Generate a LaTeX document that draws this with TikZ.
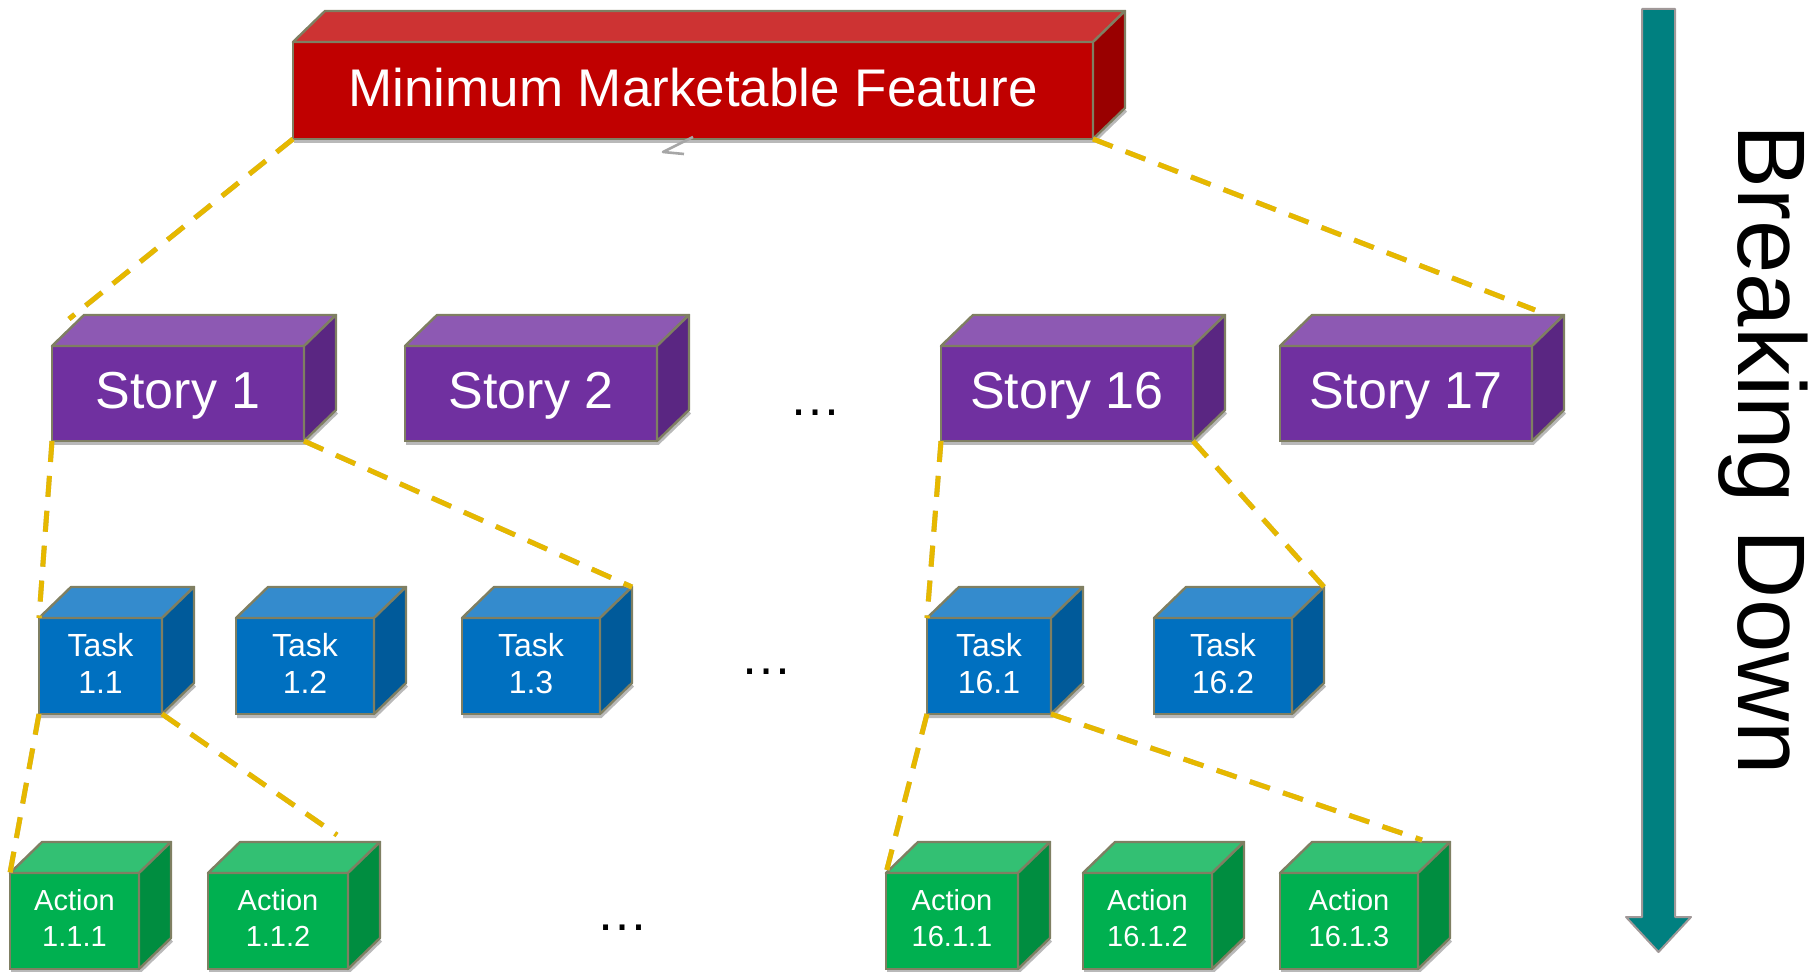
\documentclass[tikz,border=0pt]{standalone}
\usepackage{fontspec}
\setmainfont{Liberation Sans}
\usetikzlibrary{calc,arrows.meta}

\definecolor{mmfF}{HTML}{C00000}
\definecolor{mmfT}{HTML}{CD3333}
\definecolor{mmfS}{HTML}{990000}
\definecolor{stF}{HTML}{7030A0}
\definecolor{stT}{HTML}{8D59B3}
\definecolor{stS}{HTML}{5A2682}
\definecolor{tkF}{HTML}{0070C0}
\definecolor{tkT}{HTML}{348BCD}
\definecolor{tkS}{HTML}{005A9A}
\definecolor{acF}{HTML}{00B050}
\definecolor{acT}{HTML}{33C073}
\definecolor{acS}{HTML}{008D40}
\definecolor{edgec}{HTML}{7F7F62}
\definecolor{dashy}{HTML}{E6B800}
\definecolor{arrowteal}{HTML}{008080}
\definecolor{arrowgray}{HTML}{A09898}

\newcommand\fmmf{\fontsize{26.5}{30}\selectfont}
\newcommand\fstory{\fontsize{26}{30}\selectfont}
\newcommand\ftask{\fontsize{16}{18.5}\selectfont}
\newcommand\faction{\fontsize{14.5}{18}\selectfont}
\def\cdx{32}
\def\cdy{31}

\tikzset{
  front/.style={fill=#1F, draw=edgec, line width=1.2pt, text=white, inner sep=0pt,
    outer sep=0pt, anchor=north west, align=center, text depth=3pt},
  face/.style={fill=#1, draw=edgec, line width=1.2pt, line join=round},
  boxshadow/.style={draw=gray!55, line width=1.5pt},
  conn/.style={draw=dashy, line width=2.5pt, dash pattern=on 10.5pt off 7pt},
  connshadow/.style={draw=gray!55, line width=2.5pt, dash pattern=on 10.5pt off 7pt, shift={(1,3)}},
  dots/.style={font=\fstory, anchor=base, inner sep=0pt},
}

% name, x, y, w, h, colour prefix, font, text
\newcommand\cubebox[8]{%
  \draw[boxshadow] (#2+1,#3+#5+2.5) -- (#2+#4+1,#3+#5+2.5) -- (#2+#4+\cdx+1,#3+#5-\cdy+2.5);
  \node[front=#6, minimum width=#4*0.5pt, minimum height=#5*0.5pt, font=#7] (#1) at (#2,#3) {#8};
  \filldraw[face=#6T] (#1.north west) -- ++(\cdx,-\cdy) -- ++(#4,0) -- (#1.north east) -- cycle;
  \filldraw[face=#6S] (#1.north east) -- ++(\cdx,-\cdy) -- ++(0,#5) -- (#1.south east) -- cycle;
}

\begin{document}
\begin{tikzpicture}[x=0.5pt,y=-0.5pt]
\useasboundingbox (0,0) rectangle (1820,972);

% top level
\cubebox{mmf}{293}{42}{800}{97}{mmf}{\fmmf}{Minimum Marketable Feature}

% stories
\cubebox{s1}{52}{346}{252}{95}{st}{\fstory}{Story 1}
\cubebox{s2}{405}{346}{252}{95}{st}{\fstory}{Story 2}
\cubebox{s16}{941}{346}{252}{95}{st}{\fstory}{Story 16}
\cubebox{s17}{1280}{346}{252}{95}{st}{\fstory}{Story 17}
\node[dots] (dotsS) at (815,416) {…};

% tasks
\cubebox{t11}{39}{618}{123}{96}{tk}{\ftask}{Task\\1.1}
\cubebox{t12}{236}{618}{138}{96}{tk}{\ftask}{Task\\1.2}
\cubebox{t13}{462}{618}{138}{96}{tk}{\ftask}{Task\\1.3}
\cubebox{t161}{927}{618}{124}{96}{tk}{\ftask}{Task\\16.1}
\cubebox{t162}{1154}{618}{138}{96}{tk}{\ftask}{Task\\16.2}
\node[dots] (dotsT) at (766,674) {…};

% actions
\cubebox{a111}{10}{873}{129}{96}{ac}{\faction}{Action\\1.1.1}
\cubebox{a112}{208}{873}{140}{96}{ac}{\faction}{Action\\1.1.2}
\cubebox{a1611}{886}{873}{132}{96}{ac}{\faction}{Action\\16.1.1}
\cubebox{a1612}{1083}{873}{129}{96}{ac}{\faction}{Action\\16.1.2}
\cubebox{a1613}{1280}{873}{138}{96}{ac}{\faction}{Action\\16.1.3}
\node[dots] (dotsA) at (622,930) {…};

% connector end points
\coordinate (s1end) at ($(s1.north west)+(17,-27)$);
\coordinate (s17end) at ($(s17.north east)+(3,-36)$);
\coordinate (t13c) at ($(t13.north east)+(\cdx,-\cdy)$);
\coordinate (t162c) at ($(t162.north east)+(\cdx,-\cdy)$);
\coordinate (a112end) at ($(a112.north east)+(-11,-38)$);
\coordinate (a1613end) at ($(a1613.north east)+(4,-33)$);

% dashed connectors (shadow, then line)
\foreach \a/\b in {mmf.south west/s1end, mmf.south east/s17end,
  s1.south west/t11.north west, s1.south east/t13c,
  s16.south west/t161.north west, s16.south east/t162c,
  t11.south west/a111.north west, t11.south east/a112end,
  t161.south west/a1611.north west, t161.south east/a1613end}{
  \draw[connshadow] (\a) -- (\b);
  \draw[conn] (\a) -- (\b);
}

% small grey arrowhead under the feature box
\coordinate (gtip) at (663,152);
\coordinate (garm1) at (693,137);
\coordinate (garm2) at (684,154);
\draw[gray!70, line width=1.3pt, line join=round] (garm1) -- (gtip) -- (garm2);

% breaking down arrow
\filldraw[fill=arrowteal, draw=arrowgray, line width=1pt, line join=round]
  (1642,9) -- (1675,9) -- (1675,917) -- (1691,917) -- (1658.5,952) -- (1626,917) -- (1642,917) -- cycle;
\node[rotate=-90, anchor=base, inner sep=0pt, font=\fontsize{48}{56}\selectfont] (bd) at (1738,450) {Breaking Down};
\end{tikzpicture}
\end{document}
